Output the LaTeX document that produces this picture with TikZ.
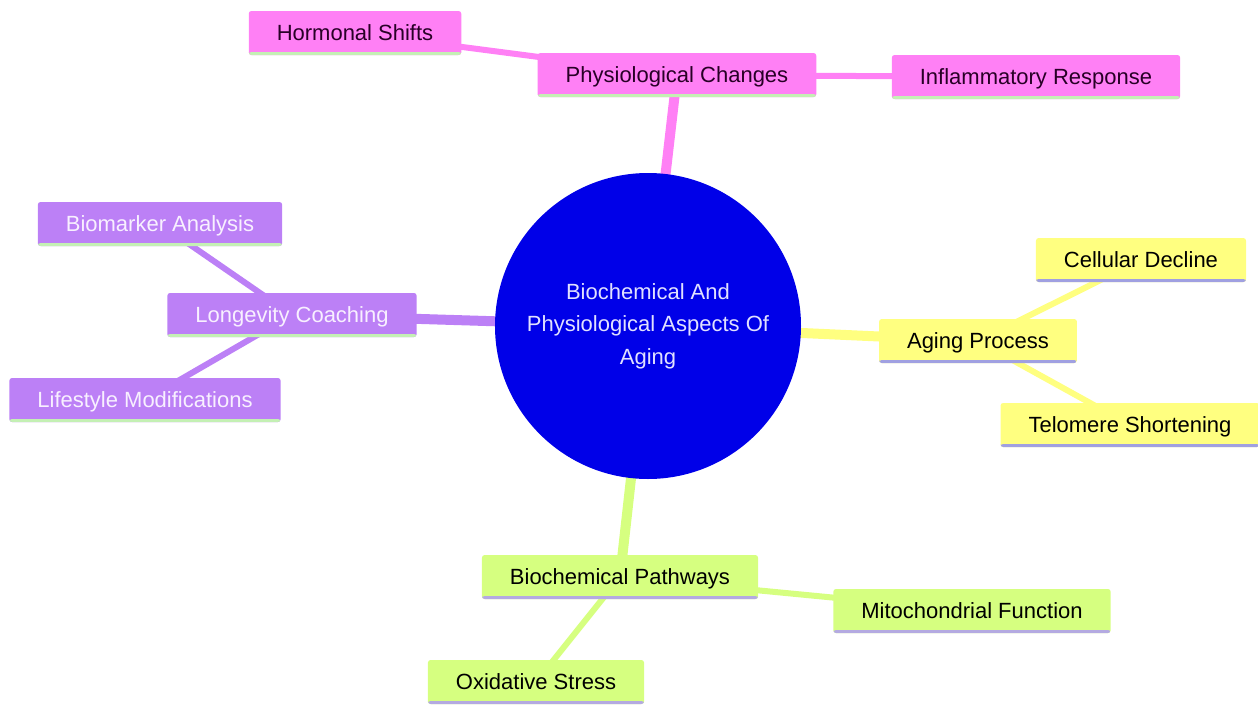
\documentclass[tikz,border=0pt]{standalone}
\usepackage{fontspec}
\setmainfont{Liberation Sans}
\usepackage{xcolor}
\usepackage{tikz}
\usetikzlibrary{shapes}
\usetikzlibrary{backgrounds}
\definecolor{rootblue}{RGB}{0,0,232}
\definecolor{roottext}{RGB}{225,225,255}
\definecolor{pinkfill}{RGB}{255,128,245}
\definecolor{pinktext}{RGB}{40,0,38}
\definecolor{purplefill}{RGB}{188,128,246}
\definecolor{purpletext}{RGB}{248,240,255}
\definecolor{yellowfill}{RGB}{255,255,128}
\definecolor{greenfill}{RGB}{214,255,128}
\definecolor{mintline}{RGB}{196,240,180}
\definecolor{blueline}{RGB}{160,160,225}
\definecolor{lilacline}{RGB}{180,170,225}
\tikzset{
  main node/.style={rectangle,rounded corners=2pt,font=\fontsize{16.5}{19}\selectfont,
    inner xsep=21pt,text height=12pt,text depth=0.5pt,minimum height=33pt},
  bottom line/.style={path picture={\fill[#1] ([yshift=2.25pt]path picture bounding box.south west)
    rectangle (path picture bounding box.south east);}},
  root node/.style={circle,fill=rootblue,text=roottext,minimum size=229.5pt,align=center,
    font=\fontsize{16.5}{24.4}\selectfont},
  pink node/.style={main node,fill=pinkfill,text=pinktext,bottom line=mintline},
  purple node/.style={main node,fill=purplefill,text=purpletext,bottom line=mintline},
  yellow node/.style={main node,fill=yellowfill,text=black,bottom line=blueline},
  green node/.style={main node,fill=greenfill,text=black,bottom line=lilacline},
  trunk/.style={line width=7.5pt},
  twig/.style={line width=4.5pt}
}

\begin{document}
\begin{tikzpicture}[x=0.75pt,y=-0.75pt]
  \useasboundingbox (0,0) rectangle (1258,707);
  % centre
  \node[root node] (0) at (648,326) {Biochemical And\\Physiological Aspects Of\\Aging};
  % physiological changes
  \node[pink node] (1) at (677,75) {Physiological Changes};
  \node[pink node] (11) at (355,33) {Hormonal Shifts};
  \node[pink node] (12) at (1036,77) {Inflammatory Response};
  % longevity coaching
  \node[purple node] (2) at (292,315) {Longevity Coaching};
  \node[purple node] (21) at (160,224) {Biomarker Analysis};
  \node[purple node] (22) at (145,400) {Lifestyle Modifications};
  % aging process
  \node[yellow node] (3) at (978,341) {Aging Process};
  \node[yellow node] (31) at (1141,260) {Cellular Decline};
  \node[yellow node] (32) at (1130,425) {Telomere Shortening};
  % biochemical pathways
  \node[green node] (4) at (620,577) {Biochemical Pathways};
  \node[green node] (41) at (972,611) {Mitochondrial Function};
  \node[green node] (42) at (536,682) {Oxidative Stress};
  % edges
  \begin{pgfonlayer}{background}
    \draw[trunk,pinkfill] (0.center) -- (1.center);
    \draw[twig,pinkfill] (1.center) -- (11.center);
    \draw[twig,pinkfill] (1.center) -- (12.center);
    \draw[trunk,purplefill] (0.center) -- (2.center);
    \draw[twig,purplefill] (2.center) -- (21.center);
    \draw[twig,purplefill] (2.center) -- (22.center);
    \draw[trunk,yellowfill] (0.center) -- (3.center);
    \draw[twig,yellowfill] (3.center) -- (31.center);
    \draw[twig,yellowfill] (3.center) -- (32.center);
    \draw[trunk,greenfill] (0.center) -- (4.center);
    \draw[twig,greenfill] (4.center) -- (41.center);
    \draw[twig,greenfill] (4.center) -- (42.center);
  \end{pgfonlayer}
\end{tikzpicture}
\end{document}
